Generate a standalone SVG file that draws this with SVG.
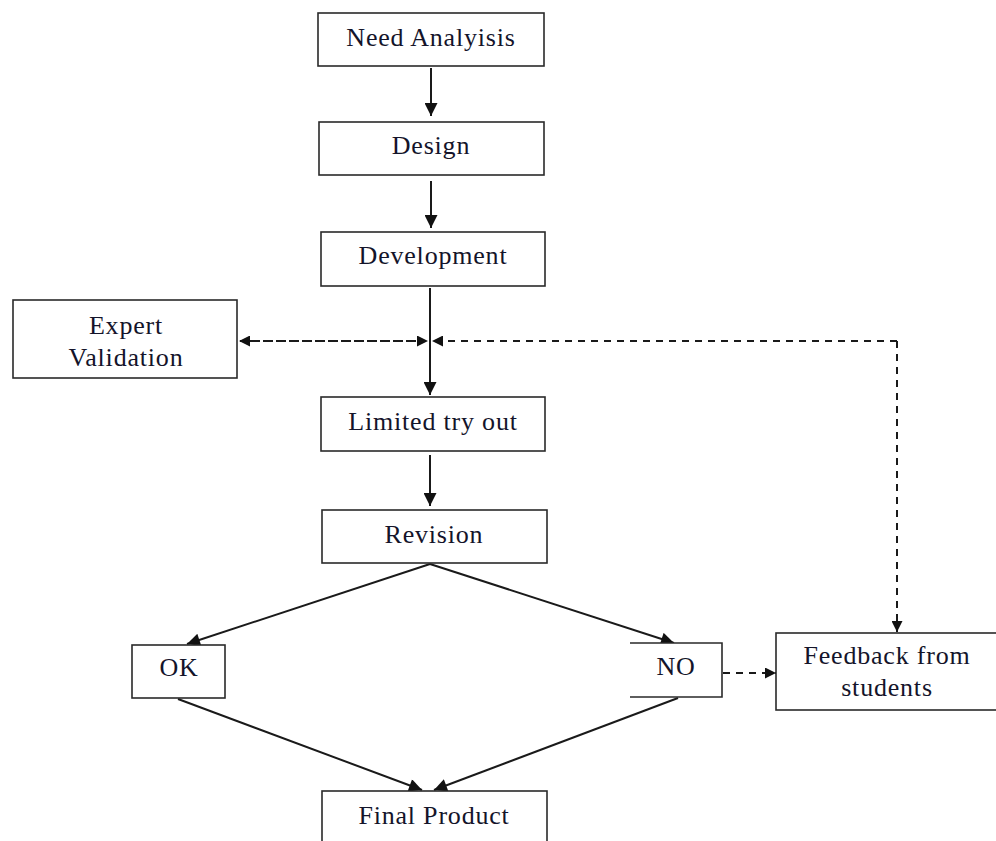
<svg xmlns="http://www.w3.org/2000/svg" width="996" height="841" viewBox="0 0 996 841">
  <style>
    .box { fill: #ffffff; stroke: #2a2a2a; stroke-width: 1.6; }
    .lbl { font-family: "Liberation Serif", "Times New Roman", serif; font-size: 26px; letter-spacing: 0.8px; fill: #14142a; text-anchor: middle; }
    .flow { fill: none; stroke: #1a1a1a; stroke-width: 2; }
    .dash { fill: none; stroke: #1a1a1a; stroke-width: 2; stroke-dasharray: 7 6; }
  </style>
  <defs>
    <!-- solid flow arrowhead -->
    <marker id="arrow" viewBox="0 0 10 10" refX="10" refY="5" markerWidth="14" markerHeight="13" markerUnits="userSpaceOnUse" orient="auto">
      <path d="M0,0 L10,5 L0,10 Z" fill="#111"/>
    </marker>
    <!-- smaller arrowhead for dashed links -->
    <marker id="arrow-s" viewBox="0 0 10 10" refX="10" refY="5" markerWidth="12" markerHeight="11" markerUnits="userSpaceOnUse" orient="auto">
      <path d="M0,0 L10,5 L0,10 Z" fill="#111"/>
    </marker>
  </defs>

  <rect width="996" height="841" fill="#ffffff"/>

  <g id="connectors">
    <!-- main vertical flow -->
    <line class="flow" x1="431" y1="68" x2="431" y2="116" marker-end="url(#arrow)"/>
    <line class="flow" x1="431" y1="181" x2="431" y2="228" marker-end="url(#arrow)"/>
    <line class="flow" x1="430" y1="288" x2="430" y2="395" marker-end="url(#arrow)"/>
    <line class="flow" x1="430" y1="455" x2="430" y2="506" marker-end="url(#arrow)"/>
    <!-- branches from Revision -->
    <line class="flow" x1="430" y1="564" x2="187" y2="644" marker-end="url(#arrow)"/>
    <line class="flow" x1="430" y1="564" x2="674" y2="643" marker-end="url(#arrow)"/>
    <!-- into Final Product -->
    <line class="flow" x1="178" y1="699" x2="422" y2="790" marker-end="url(#arrow)"/>
    <line class="flow" x1="678" y1="698" x2="434" y2="790" marker-end="url(#arrow)"/>
    <!-- dashed validation / feedback loop -->
    <line class="dash" x1="416" y1="341" x2="239" y2="341" marker-end="url(#arrow-s)"/>
    <line class="dash" x1="250" y1="341" x2="428" y2="341" marker-end="url(#arrow-s)"/>
    <line class="dash" x1="897" y1="341" x2="432" y2="341" marker-end="url(#arrow-s)"/>
    <line class="dash" x1="897" y1="341" x2="897" y2="632" marker-end="url(#arrow-s)"/>
    <line class="dash" x1="723" y1="673" x2="776" y2="673" marker-end="url(#arrow-s)"/>
  </g>

  <g id="need-analysis">
    <rect class="box" x="318" y="13" width="226" height="53"/>
    <text class="lbl" x="431" y="46">Need Analyisis</text>
  </g>
  <g id="design">
    <rect class="box" x="319" y="122" width="225" height="53"/>
    <text class="lbl" x="431" y="154">Design</text>
  </g>
  <g id="development">
    <rect class="box" x="321" y="232" width="224" height="54"/>
    <text class="lbl" x="433" y="264">Development</text>
  </g>
  <g id="expert-validation">
    <rect class="box" x="13" y="300" width="224" height="78"/>
    <text class="lbl" x="126" y="334">Expert</text>
    <text class="lbl" x="126" y="366">Validation</text>
  </g>
  <g id="limited-try-out">
    <rect class="box" x="321" y="397" width="224" height="54"/>
    <text class="lbl" x="433" y="430">Limited try out</text>
  </g>
  <g id="revision">
    <rect class="box" x="322" y="510" width="225" height="53"/>
    <text class="lbl" x="434" y="543">Revision</text>
  </g>
  <g id="ok">
    <rect class="box" x="132" y="645" width="93" height="53"/>
    <text class="lbl" x="179" y="676">OK</text>
  </g>
  <g id="no">
    <path class="box" d="M630,643 H722 V697 H630"/>
    <text class="lbl" x="676" y="675">NO</text>
  </g>
  <g id="feedback">
    <rect class="box" x="776" y="633" width="240" height="77"/>
    <text class="lbl" x="887" y="664">Feedback from</text>
    <text class="lbl" x="887" y="696">students</text>
  </g>
  <g id="final-product">
    <rect class="box" x="322" y="791" width="225" height="70"/>
    <text class="lbl" x="434" y="824">Final Product</text>
  </g>
</svg>
